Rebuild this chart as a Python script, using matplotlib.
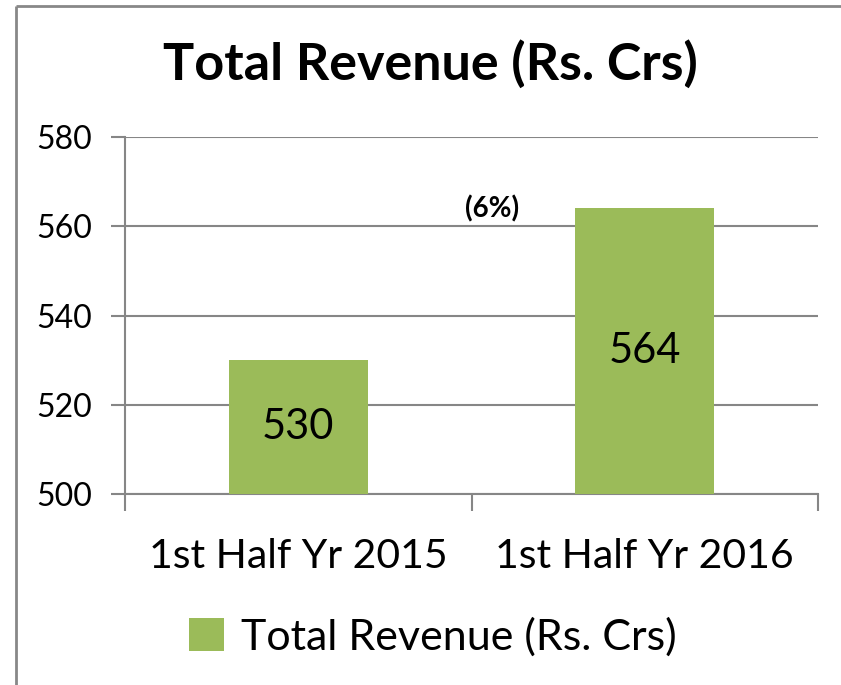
import matplotlib
matplotlib.use("Agg")
import matplotlib.pyplot as plt
from matplotlib.patches import Patch
from matplotlib.lines import Line2D

categories = ["1st Half Yr 2015", "1st Half Yr 2016"]
values = [530, 564]
growth_label = "(6%)"
series_name = "Total Revenue (Rs. Crs)"
title = "Total Revenue (Rs. Crs)"
yticks = [500, 520, 540, 560, 580]

plt.rcParams['font.family'] = ['Lato', 'DejaVu Sans']
bar_color = "#9BBB59"
grid_color = "#868686"

fig = plt.figure(figsize=(8.41, 6.85), dpi=100)
ax = fig.add_axes([125/841, 1-494/685, (818-125)/841, (494-137)/685])

ymin, ymax = 500, 580
x = list(range(len(categories)))
ax.bar(x, values, width=0.4, color=bar_color, zorder=3)
for xi, v in zip(x, values):
    ax.text(xi, (ymin + v) / 2, str(v),
            ha='center', va='center', fontsize=30, color='black', zorder=4)

ax.set_xlim(-0.5, len(categories) - 0.5)
ax.set_ylim(ymin, ymax)
ax.set_yticks(yticks)
ax.set_yticklabels([str(t) for t in yticks], fontsize=23)
ax.yaxis.grid(True, color=grid_color, linewidth=1.5, zorder=0)
ax.set_axisbelow(True)

ax.set_xticks([i - 0.5 for i in range(len(categories) + 1)])
ax.set_xticklabels([])
ax.set_xticks(x, minor=True)
ax.set_xticklabels(categories, minor=True, fontsize=29.5)
ax.tick_params(axis='x', which='minor', length=0, pad=32)
ax.tick_params(axis='x', which='major', length=12, width=1.5, color=grid_color, direction='out')
ax.tick_params(axis='y', length=10, width=1.5, color=grid_color, pad=14)

for s in ['top', 'right']:
    ax.spines[s].set_visible(False)
for s in ['left', 'bottom']:
    ax.spines[s].set_color(grid_color)
    ax.spines[s].set_linewidth(1.5)

ax.text(0.56, 564, growth_label, ha='center', va='center', fontsize=20,
        fontweight='bold', zorder=4)

fig.text(430/841, 1-64/685, title, ha='center', va='center', fontsize=37.5,
         fontweight='bold')

fig.legend(handles=[Patch(facecolor=bar_color, label=series_name)],
           loc='center', bbox_to_anchor=(433/841, 1-637/685),
           frameon=False, fontsize=31, handlelength=0.8, handleheight=0.8,
           handletextpad=0.4)

fig.add_artist(Line2D([16/841, 16/841], [0, 1 - 6/685], transform=fig.transFigure,
                      color='#888888', linewidth=2, solid_capstyle='butt'))
fig.add_artist(Line2D([16/841, 1], [1 - 6/685, 1 - 6/685], transform=fig.transFigure,
                      color='#888888', linewidth=2, solid_capstyle='butt'))

fig.savefig("out.png", dpi=100)
